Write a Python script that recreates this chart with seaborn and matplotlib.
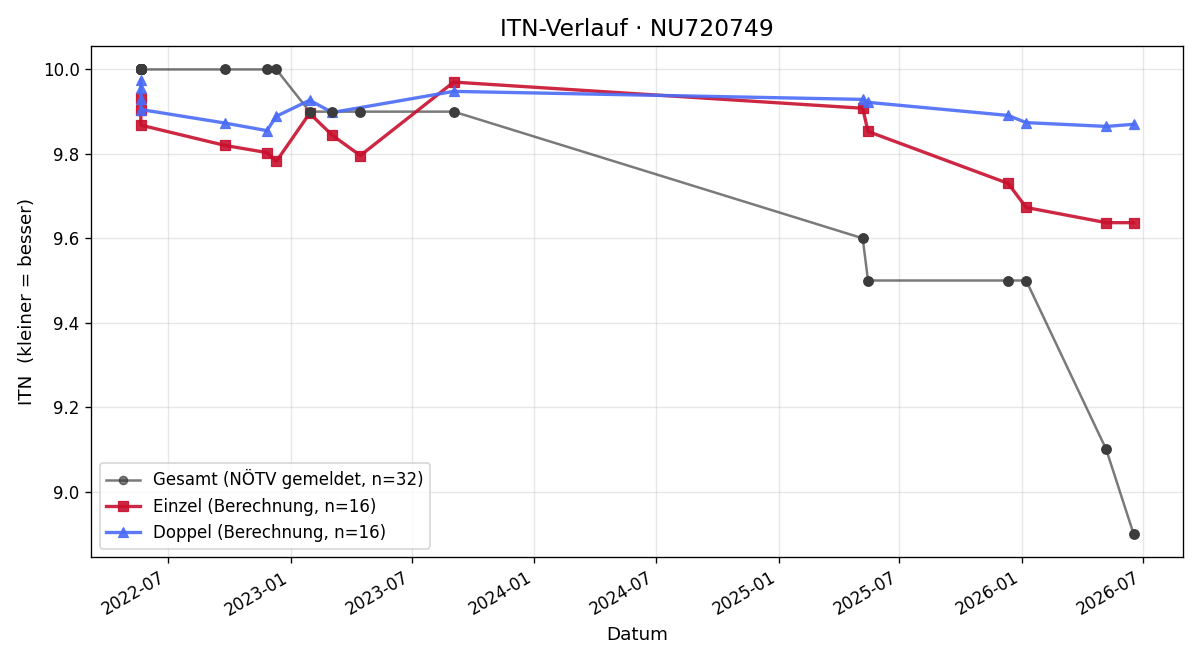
import matplotlib
matplotlib.use("Agg")
import matplotlib.pyplot as plt
import pandas as pd
import seaborn as sns

# Gesamt (reported ITN), many entries on the first date
gesamt_dates = ["2022-05-21"] * 19 + [
    "2022-09-24", "2022-11-26", "2022-12-10", "2023-01-29", "2023-03-04",
    "2023-04-15", "2023-09-02", "2025-05-07", "2025-05-15", "2025-12-11",
    "2026-01-07", "2026-05-07", "2026-06-17"]
gesamt_vals = [10.0] * 19 + [
    10.0, 10.0, 10.0, 9.9, 9.9,
    9.9, 9.9, 9.6, 9.5, 9.5,
    9.5, 9.1, 8.9]

einzel_dates = ["2022-05-21"] * 3 + [
    "2022-09-24", "2022-11-26", "2022-12-10", "2023-01-29", "2023-03-04",
    "2023-04-15", "2023-09-02", "2025-05-07", "2025-05-15", "2025-12-11",
    "2026-01-07", "2026-05-07", "2026-06-17"]
einzel_vals = [9.933, 9.903, 9.868,
               9.820, 9.803, 9.782, 9.896, 9.844,
               9.796, 9.970, 9.908, 9.853, 9.730,
               9.673, 9.637, 9.637]

doppel_dates = ["2022-05-21"] * 4 + [
    "2022-09-24", "2022-11-26", "2022-12-10", "2023-01-29", "2023-03-04",
    "2023-09-02", "2025-05-07", "2025-05-15", "2025-12-11",
    "2026-01-07", "2026-05-07", "2026-06-17"]
doppel_vals = [9.974, 9.955, 9.930, 9.905,
               9.873, 9.855, 9.889, 9.927, 9.898,
               9.948, 9.929, 9.922, 9.891,
               9.874, 9.865, 9.870]

g = pd.DataFrame({"Datum": pd.to_datetime(gesamt_dates), "ITN": gesamt_vals})
e = pd.DataFrame({"Datum": pd.to_datetime(einzel_dates), "ITN": einzel_vals})
d = pd.DataFrame({"Datum": pd.to_datetime(doppel_dates), "ITN": doppel_vals})

fig, ax = plt.subplots(figsize=(10, 5.5), dpi=120)

sns.lineplot(data=g, x="Datum", y="ITN", ax=ax, estimator=None, sort=False,
             color="#333333", alpha=0.65, lw=1.5, marker="o", markersize=5,
             markeredgecolor="#333333",
             label="Gesamt (NÖTV gemeldet, n=32)")
# solid dots on top
ax.plot(g["Datum"], g["ITN"], ls="none", marker="o", markersize=5.5,
        color="#3c3c3c", zorder=3)
sns.lineplot(data=e, x="Datum", y="ITN", ax=ax, estimator=None, sort=False,
             color="#c8102e", lw=2, marker="s", markersize=6.5, alpha=0.9,
             markeredgecolor="#c8102e",
             label="Einzel (Berechnung, n=16)")
sns.lineplot(data=d, x="Datum", y="ITN", ax=ax, estimator=None, sort=False,
             color="#4a6cf7", lw=2, marker="^", markersize=6.5, alpha=0.9,
             markeredgecolor="#4a6cf7",
             label="Doppel (Berechnung, n=16)")

ax.set_title("ITN-Verlauf · NU720749", fontsize=14)
ax.set_xlabel("Datum", fontsize=11)
ax.set_ylabel("ITN  (kleiner = besser)", fontsize=11)
ax.grid(True, alpha=0.3)
ax.legend(loc="lower left", fontsize=10)
fig.autofmt_xdate()

fig.subplots_adjust(left=0.076, right=0.986, top=0.930, bottom=0.156)
fig.savefig("out.png", dpi=120)
